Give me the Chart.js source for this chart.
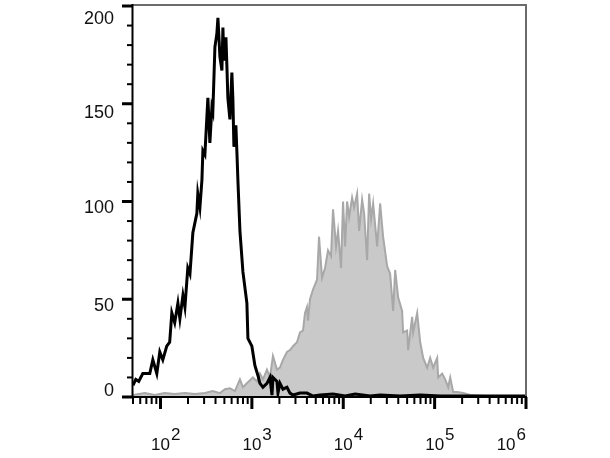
<!DOCTYPE html>
<html>
<head>
<meta charset="utf-8">
<script src="https://cdn.jsdelivr.net/npm/chart.js@4.4.0/dist/chart.umd.min.js"></script>
<style>
  html, body { margin: 0; padding: 0; background: #fff; }
</style>
</head>
<body>
<canvas id="myChart" width="610" height="458"></canvas>
<script>
// control (unstained) histogram - black outline
const controlX = [50, 53.6, 57.8, 64, 76.3, 82.4, 91.1, 98.2, 106, 117, 126, 133, 143, 155, 163, 176, 185, 199, 210, 226,
    250, 256, 270, 284, 291, 306, 330, 347, 365, 374, 394, 414, 425, 447, 470, 482, 494, 520, 533, 546,
    575, 604, 620, 636, 668, 686, 703, 740, 798, 882, 905, 1000, 1080, 1165, 1225, 1322, 1462, 1577, 1659, 1701,
    1882, 1930, 2029, 2189, 2422, 2612, 2818, 3363, 4010, 4667, 5568, 7730, 10480, 13490, 19690, 25330, 42000, 69540,
    115200, 245500, 523600, 1000000];
const controlY = [6, 9, 8, 12, 12, 19, 12, 23, 19, 26, 28, 43, 38, 48, 40, 52, 46, 66, 63, 84,
    94, 104, 97, 111, 126, 124, 153, 130, 148, 146, 179, 186, 194, 174, 167, 189, 172, 184, 169, 153,
    142, 166, 152, 128, 139, 125, 111, 85, 64, 48, 30, 26, 16, 11, 7, 5, 7, 10, 1, 10,
    8, 2, 7, 4, 5, 2, 1, 2, 2, 0.5, 1, 1.5, 0.5, 1.5, 0.5, 1, 0.5, 1,
    0.5, 0.5, 0.5, 0.5];

// stained sample histogram - gray filled
const stainedX = [50, 67.3, 86.6, 111, 143, 185, 238, 306, 374, 447, 507, 575, 652, 740, 798, 882, 1027, 1136, 1225, 1322,
    1462, 1577, 1701, 1882, 2029, 2189, 2422, 2612, 2818, 3117, 3363, 3627, 3814, 4010, 4113, 4325, 4667, 5164, 5430, 5857,
    6318, 6814, 7349, 7730, 8339, 8770, 9461, 9950, 10480, 11020, 11590, 12500, 13150, 14180, 14920, 16090, 16920, 18250, 19190, 20190,
    21230, 23490, 25330, 27290, 30200, 32580, 35170, 36990, 39860, 44080, 45190, 50030, 51290, 56750, 58210, 64400, 69540, 74920, 82840, 89380,
    96400, 106600, 109400, 121000, 130500, 140800, 148100, 159700, 176600, 205500, 245500, 358100, 523600, 1000000];
const stainedY = [1, 2, 1, 2, 1.5, 2, 1.5, 2, 3, 2, 4, 4.5, 3, 9, 5, 7, 10, 8, 12, 9,
    14, 10, 21, 14, 15, 19, 23, 24, 26, 28, 33, 34, 43, 46, 39, 50, 55, 60, 82, 61,
    66, 75, 72, 96, 77, 85, 66, 100, 77, 100, 92, 102, 97, 104, 85, 101, 94, 70, 104, 91,
    99, 77, 99, 82, 67, 63, 44, 65, 51, 44, 33, 34, 24, 41, 33, 43, 28, 20, 15, 20,
    15, 20, 10, 12, 9, 5, 10, 2.5, 2.5, 2, 1, 0.5, 0.5, 0.3];

// tick labels
const yTickValues = [0, 50, 100, 150, 200];
const xDecades = [100, 1000, 10000, 100000, 1000000];
const xDecadeExp = ['2', '3', '4', '5', '6'];

const toPoints = (xs, ys) => xs.map((v, i) => ({ x: v, y: ys[i] }));

// minor log ticks: 2..9 of every decade inside the axis
const xMinor = [];
[10, 100, 1000, 10000, 100000].forEach((d) => {
    for (let k = 2; k <= 9; k++) {
        if (d * k >= 50 && d * k < 1000000) xMinor.push(d * k);
    }
});

const FONT = '"Liberation Sans", Arial, sans-serif';

// axes are drawn by hand to get the cytometry look (short minor ticks, superscript labels)
const flowAxes = {
    id: 'flowAxes',
    afterDraw(chart) {
        const { ctx, chartArea: a, scales: { x, y } } = chart;
        ctx.save();

        // gray top/right frame
        ctx.strokeStyle = '#6b6b6b';
        ctx.lineWidth = 2;
        ctx.beginPath();
        ctx.moveTo(a.left, a.top - 1);
        ctx.lineTo(a.right, a.top - 1);
        ctx.lineTo(a.right, a.bottom);
        ctx.stroke();

        // black left/bottom axes
        ctx.strokeStyle = '#000';
        ctx.beginPath();
        ctx.moveTo(a.left - 0.5, a.top - 2);
        ctx.lineTo(a.left - 0.5, a.bottom);
        ctx.lineTo(a.right + 1, a.bottom);
        ctx.stroke();

        // y ticks every 10, major every 50
        for (let v = 0; v <= 200; v += 10) {
            const py = y.getPixelForValue(v);
            const major = v % 50 === 0;
            ctx.lineWidth = major ? 3 : 2;
            ctx.beginPath();
            ctx.moveTo(a.left - (major ? 11 : 6), py);
            ctx.lineTo(a.left, py);
            ctx.stroke();
        }

        // x ticks
        xMinor.forEach((v) => {
            const px = x.getPixelForValue(v);
            ctx.lineWidth = 2;
            ctx.beginPath();
            ctx.moveTo(px, a.bottom);
            ctx.lineTo(px, a.bottom + 7);
            ctx.stroke();
        });
        xDecades.forEach((v) => {
            const px = x.getPixelForValue(v);
            ctx.lineWidth = 3;
            ctx.beginPath();
            ctx.moveTo(px, a.bottom);
            ctx.lineTo(px, a.bottom + 12);
            ctx.stroke();
        });

        ctx.fillStyle = '#111';

        // y labels (vertical nudges follow the reference)
        ctx.font = '18px ' + FONT;
        const yNudge = { 0: -6, 50: 7, 100: 7, 150: 9, 200: 13 };
        ctx.textAlign = 'right';
        ctx.textBaseline = 'middle';
        yTickValues.forEach((v) => {
            ctx.fillText(String(v), 114, y.getPixelForValue(v) + yNudge[v]);
        });

        // x labels: 10 with full size superscript
        ctx.font = '17px ' + FONT;
        ctx.textAlign = 'left';
        ctx.textBaseline = 'alphabetic';
        xDecades.forEach((v, i) => {
            const px = x.getPixelForValue(v);
            const wBase = ctx.measureText('10').width;
            const wExp = ctx.measureText(xDecadeExp[i]).width;
            let left = px - wBase / 2;
            if (left + wBase + 1 + wExp > a.right) left = a.right - wBase - 1 - wExp;
            ctx.fillText('10', left, 450);
            ctx.fillText(xDecadeExp[i], left + wBase + 1, 440);
        });

        ctx.restore();
    }
};

const ctx = document.getElementById('myChart').getContext('2d');

const myChart = new Chart(ctx, {
    type: 'line',
    data: {
        datasets: [{
            label: 'Control',
            data: toPoints(controlX, controlY),
            borderColor: '#000',
            borderWidth: 3,
            pointRadius: 0,
            fill: false,
            tension: 0,
            order: 0,
        }, {
            label: 'Stained',
            data: toPoints(stainedX, stainedY),
            borderColor: '#a8a8a8',
            backgroundColor: '#c9c9c9',
            borderWidth: 2,
            pointRadius: 0,
            fill: 'origin',
            tension: 0,
            order: 1,
        }]
    },
    options: {
        responsive: false,
        animation: false,
        devicePixelRatio: 1,
        layout: {
            padding: { left: 133, right: 84, top: 6, bottom: 61 }
        },
        plugins: {
            legend: { display: false },
            tooltip: { enabled: false },
        },
        scales: {
            x: {
                type: 'logarithmic',
                min: 50,
                max: 1000000,
                display: false,
            },
            y: {
                min: 0,
                max: 200,
                display: false,
            }
        }
    },
    plugins: [flowAxes]
});
</script>
</body>
</html>
